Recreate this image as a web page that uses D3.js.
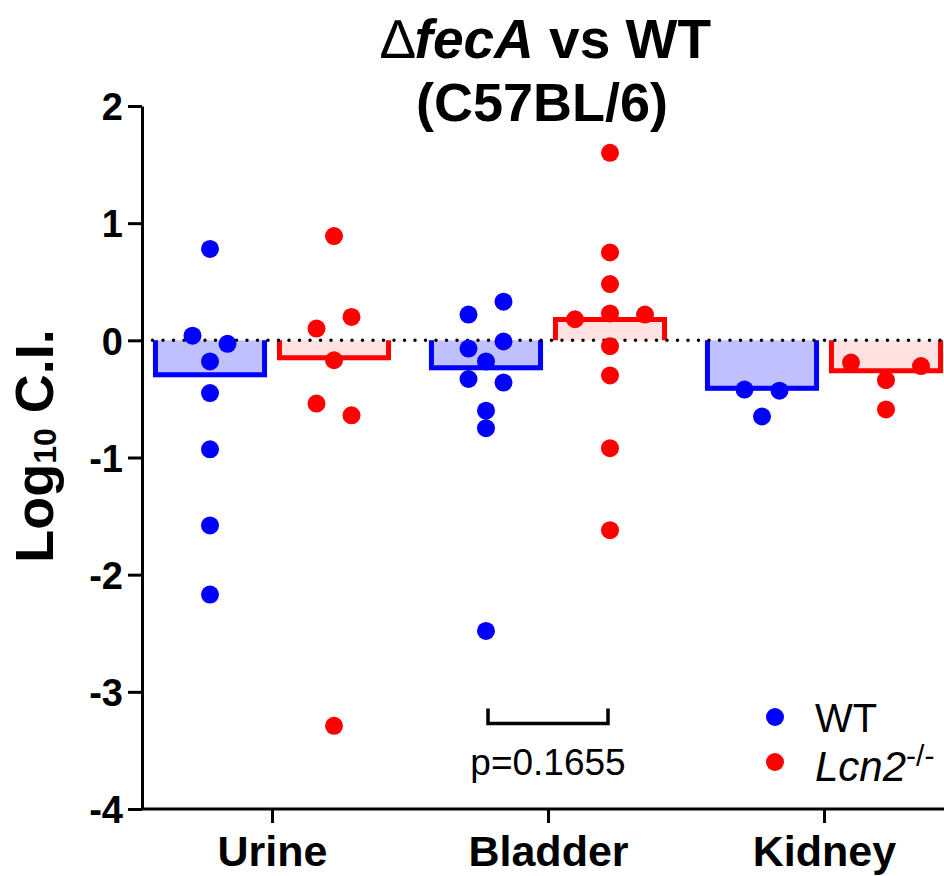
<!DOCTYPE html>
<html>
<head>
  <meta charset="utf-8">
  <title>fecA vs WT (C57BL/6)</title>
  <script src="https://cdn.jsdelivr.net/npm/d3@7"></script>
  <style>
    body {
      margin: 0;
      background: #fff;
    }
    svg text {
      font-family: "Liberation Sans", Arial, sans-serif;
      fill: #000;
    }
  </style>
</head>
<body>
  <div id="chart"></div>
  <script>
    // log10 competitive index per mouse (sheet order)
    var categories = ["Urine", "Bladder", "Kidney"];
    var strains = ["WT", "Lcn2"];
    var urineWT = [0.78, 0.04, -0.03, -0.18, -0.45, -0.93, -1.58, -2.17];
    var urineLcn2 = [0.89, 0.10, 0.20, -0.17, -0.54, -0.64, -3.29];
    var bladderWT = [0.22, 0.33, -0.07, -0.01, -0.18, -0.33, -0.36, -0.60, -0.75, -2.48];
    var bladderLcn2 = [1.60, 0.75, 0.48, 0.18, 0.23, 0.22, -0.05, -0.30, -0.92, -1.62];
    var kidneyWT = [-0.42, -0.43, -0.65];
    var kidneyLcn2 = [-0.19, -0.34, -0.22, -0.59];
    var yTicks = [2, 1, 0, -1, -2, -3, -4];
    var pLabel = "p=0.1655";

    var series = [
      {cat: "Urine", strain: "WT", values: urineWT},
      {cat: "Urine", strain: "Lcn2", values: urineLcn2},
      {cat: "Bladder", strain: "WT", values: bladderWT},
      {cat: "Bladder", strain: "Lcn2", values: bladderLcn2},
      {cat: "Kidney", strain: "WT", values: kidneyWT},
      {cat: "Kidney", strain: "Lcn2", values: kidneyLcn2}
    ];

    var svg = d3.select("#chart")
      .append("svg")
      .attr("width", 944)
      .attr("height", 876);

    var margin = {top: 106, right: 0, bottom: 67, left: 142};
    var width = svg.attr("width") - margin.left - margin.right;
    var height = svg.attr("height") - margin.top - margin.bottom;

    var y = d3.scaleLinear().domain([-4, 2]).range([height, 0]);
    var x = d3.scalePoint().domain(categories).range([130, 682]);
    var sub = d3.scaleBand().domain(strains).range([-124, 124])
      .paddingInner(0.08).paddingOuter(0.04);

    var color = d3.scaleOrdinal().domain(strains).range(["#0000ff", "#ff0000"]);
    var light = d3.scaleOrdinal().domain(strains).range(["#c0c0ff", "#ffe1e1"]);

    var g = svg.append("g")
      .attr("transform", "translate(" + margin.left + "," + margin.top + ")");

    // median bars, outline drawn inside and left open at the baseline
    var sw = 5;
    series.forEach(function(s) {
      var med = d3.median(s.values);
      var x0 = x(s.cat) + sub(s.strain);
      var w = sub.bandwidth();
      var y0 = y(0), yv = y(med);
      g.append("rect")
        .attr("x", x0)
        .attr("y", Math.min(y0, yv))
        .attr("width", w)
        .attr("height", Math.abs(yv - y0))
        .attr("fill", light(s.strain));
      var yi = yv > y0 ? yv - sw / 2 : yv + sw / 2;
      g.append("path")
        .attr("d", "M" + (x0 + sw / 2) + "," + y0 + "V" + yi + "H" + (x0 + w - sw / 2) + "V" + y0)
        .attr("fill", "none")
        .attr("stroke", color(s.strain))
        .attr("stroke-width", sw);
    });

    // dotted line at zero
    g.append("line")
      .attr("x1", 0).attr("x2", width)
      .attr("y1", y(0)).attr("y2", y(0))
      .attr("stroke", "#000")
      .attr("stroke-width", 3.5)
      .attr("stroke-linecap", "round")
      .attr("stroke-dasharray", "0,10.5");

    // spread points that share a row, like a column scatter
    var step = 35;
    function spread(values, cx) {
      var order = values.map(function(v, i) { return i; })
        .sort(function(a, b) { return values[b] - values[a]; });
      var rows = [], row = null;
      order.forEach(function(i) {
        var py = y(values[i]);
        if (row && py - row.start < 18 && py - row.last < 16) {
          row.items.push(i);
          row.last = py;
        } else {
          row = {start: py, last: py, items: [i]};
          rows.push(row);
        }
      });
      var pos = [];
      rows.forEach(function(r) {
        r.items.sort(function(a, b) { return a - b; });
        var n = r.items.length;
        r.items.forEach(function(i, k) {
          pos[i] = cx + (k - (n - 1) / 2) * step;
        });
      });
      return values.map(function(v, i) { return {value: v, px: pos[i]}; });
    }

    series.forEach(function(s) {
      var cx = x(s.cat) + sub(s.strain) + sub.bandwidth() / 2;
      g.selectAll(null)
        .data(spread(s.values, cx))
        .enter()
        .append("circle")
        .attr("cx", function(d) { return d.px; })
        .attr("cy", function(d) { return y(d.value); })
        .attr("r", 9)
        .attr("fill", color(s.strain));
    });

    // y axis
    var yAxis = g.append("g")
      .call(d3.axisLeft(y).tickValues(yTicks).tickSize(14).tickSizeOuter(0).tickPadding(5)
        .tickFormat(function(d) { return String(d); }));
    yAxis.select(".domain").attr("stroke-width", 3);
    yAxis.selectAll(".tick line").attr("stroke-width", 3);
    yAxis.selectAll(".tick text")
      .attr("dy", "0.36em")
      .style("font-size", "38px")
      .style("font-weight", "bold");

    // x axis
    var xAxis = g.append("g")
      .attr("transform", "translate(0," + height + ")")
      .call(d3.axisBottom(x).tickSize(14).tickSizeOuter(0));
    xAxis.select(".domain").remove();
    xAxis.selectAll(".tick line").attr("stroke-width", 3);
    xAxis.selectAll(".tick text")
      .attr("y", 57)
      .attr("dy", 0)
      .style("font-size", "43px")
      .style("font-weight", "bold");
    g.append("line")
      .attr("x1", 0).attr("x2", width)
      .attr("y1", height).attr("y2", height)
      .attr("stroke", "#000")
      .attr("stroke-width", 3);

    // significance bracket for bladder
    var bx1 = x("Bladder") + sub("WT") + sub.bandwidth() / 2 + 2;
    var bx2 = x("Bladder") + sub("Lcn2") + sub.bandwidth() / 2 - 2;
    var by = y(-3.27);
    g.append("path")
      .attr("d", "M" + bx1 + "," + (by - 15) + "V" + by + "H" + bx2 + "V" + (by - 15))
      .attr("fill", "none")
      .attr("stroke", "#000")
      .attr("stroke-width", 3.5);
    g.append("text")
      .attr("x", (bx1 + bx2) / 2)
      .attr("y", by + 52)
      .attr("text-anchor", "middle")
      .style("font-size", "37px")
      .text(pLabel);

    // title
    var t1 = svg.append("text")
      .attr("x", 546)
      .attr("y", 58)
      .attr("text-anchor", "middle")
      .style("font-size", "55px")
      .style("font-weight", "bold");
    t1.append("tspan").style("font-weight", "normal").text("\u2206");
    t1.append("tspan").style("font-style", "italic").text("fecA");
    t1.append("tspan").text(" vs WT");
    svg.append("text")
      .attr("x", 542)
      .attr("y", 121)
      .attr("text-anchor", "middle")
      .style("font-size", "54px")
      .style("font-weight", "bold")
      .text("(C57BL/6)");

    // y axis label
    var yl = svg.append("text")
      .attr("transform", "translate(53,446) rotate(-90)")
      .attr("text-anchor", "middle")
      .style("font-size", "54px")
      .style("font-weight", "bold");
    yl.append("tspan").text("Log");
    yl.append("tspan").attr("dy", 3).style("font-size", "32px").text("10");
    yl.append("tspan").attr("dy", -3).text(" C.I.");

    // legend
    var legend = svg.append("g");
    strains.forEach(function(s, i) {
      var ly = 717 + i * 45;
      legend.append("circle")
        .attr("cx", 775)
        .attr("cy", ly)
        .attr("r", 9)
        .attr("fill", color(s));
      var lt = legend.append("text")
        .attr("x", 815)
        .attr("y", ly + (i === 0 ? 15 : 19))
        .style("font-size", i === 0 ? "40px" : "42px");
      if (s === "WT") {
        lt.text("WT");
      } else {
        lt.append("tspan").style("font-style", "italic").text("Lcn2");
        lt.append("tspan").attr("dy", -15).style("font-size", "30px").text("-/-");
      }
    });
  </script>
</body>
</html>
